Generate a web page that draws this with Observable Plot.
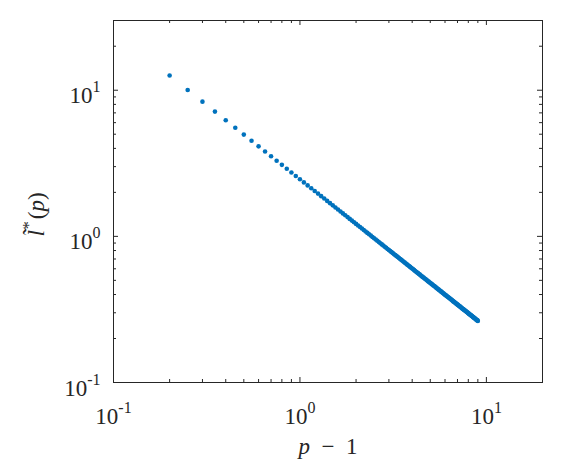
<!DOCTYPE html>
<html><head><meta charset="utf-8">
<script src="https://cdn.jsdelivr.net/npm/d3@7"></script>
<script src="https://cdn.jsdelivr.net/npm/@observablehq/plot@0.6"></script>
<style>html,body{margin:0;padding:0;background:#fff;} svg{display:block}</style>
</head><body><div id="chart"></div>
<script>
const pMinus1 = [
0.2,0.25,0.3,0.35,0.4,0.45,0.5,0.55,0.6,0.65,0.7,0.75,0.8,0.85,0.9,0.95,
1,1.05,1.1,1.15,1.2,1.25,1.3,1.35,1.4,1.45,1.5,1.55,1.6,1.65,1.7,1.75,1.8,1.85,1.9,1.95,
2,2.05,2.1,2.15,2.2,2.25,2.3,2.35,2.4,2.45,2.5,2.55,2.6,2.65,2.7,2.75,2.8,2.85,2.9,2.95,
3,3.05,3.1,3.15,3.2,3.25,3.3,3.35,3.4,3.45,3.5,3.55,3.6,3.65,3.7,3.75,3.8,3.85,3.9,3.95,
4,4.05,4.1,4.15,4.2,4.25,4.3,4.35,4.4,4.45,4.5,4.55,4.6,4.65,4.7,4.75,4.8,4.85,4.9,4.95,
5,5.05,5.1,5.15,5.2,5.25,5.3,5.35,5.4,5.45,5.5,5.55,5.6,5.65,5.7,5.75,5.8,5.85,5.9,5.95,
6,6.05,6.1,6.15,6.2,6.25,6.3,6.35,6.4,6.45,6.5,6.55,6.6,6.65,6.7,6.75,6.8,6.85,6.9,6.95,
7,7.05,7.1,7.15,7.2,7.25,7.3,7.35,7.4,7.45,7.5,7.55,7.6,7.65,7.7,7.75,7.8,7.85,7.9,7.95,
8,8.05,8.1,8.15,8.2,8.25,8.3,8.35,8.4,8.45,8.5,8.55,8.6,8.65,8.7,8.75,8.8,8.85,8.9,8.95,
9];
const lStar = [
12.60,10.04,8.35,7.14,6.23,5.53,4.97,4.51,4.13,3.81,3.53,3.29,3.085,2.901,2.738,2.591,
2.460,2.341,2.233,2.135,2.044,1.961,1.885,1.814,1.748,1.687,1.630,1.577,1.527,1.480,1.436,1.394,1.355,1.317,1.282,1.249,
1.217,1.187,1.158,1.131,1.105,1.080,1.056,1.033,1.012,0.991,0.970,0.951,0.933,0.915,0.898,0.881,0.865,0.850,0.835,0.820,
0.806,0.793,0.780,0.768,0.755,0.744,0.732,0.721,0.710,0.700,0.690,0.680,0.670,0.661,0.652,0.643,0.634,0.626,0.618,0.610,
0.602,0.595,0.587,0.580,0.573,0.566,0.560,0.553,0.547,0.540,0.534,0.528,0.523,0.517,0.511,0.506,0.500,0.495,0.490,0.485,
0.480,0.475,0.471,0.466,0.461,0.457,0.453,0.448,0.444,0.440,0.436,0.432,0.428,0.424,0.420,0.417,0.413,0.409,0.406,0.402,
0.399,0.396,0.392,0.389,0.386,0.383,0.380,0.377,0.374,0.371,0.368,0.365,0.362,0.359,0.357,0.354,0.351,0.349,0.346,0.344,
0.341,0.339,0.336,0.334,0.332,0.329,0.327,0.325,0.322,0.320,0.318,0.316,0.314,0.312,0.310,0.308,0.306,0.304,0.302,0.300,
0.298,0.296,0.294,0.292,0.291,0.289,0.287,0.285,0.284,0.282,0.280,0.278,0.277,0.275,0.274,0.272,0.270,0.269,0.267,0.266,
0.264];

const xMajorTicks = [0.1, 1, 10];
const xMinorTicks = [0.2,0.3,0.4,0.5,0.6,0.7,0.8,0.9,2,3,4,5,6,7,8,9];
const yMajorTicks = [0.1, 1, 10];
const yMinorTicks = [0.2,0.3,0.4,0.5,0.6,0.7,0.8,0.9,2,3,4,5,6,7,8,9,20];
const xTickLabels = ["10^-1", "10^0", "10^1"];
const yTickLabels = ["10^-1", "10^0", "10^1"];
const xLabel = "p − 1";
const yLabel = "l*(p)";

const points = pMinus1.map((x, i) => ({x, y: lStar[i]}));
const ink = "#262626";
const W = 565, H = 465, mL = 113, mR = 23, mT = 20, mB = 83;
const fw = W - mL - mR, fh = H - mT - mB;
const majLen = 5, minLen = 3;

const svg = Plot.plot({
  width: W, height: H,
  marginLeft: mL, marginRight: mR, marginTop: mT, marginBottom: mB,
  x: {type: "log", domain: [0.1, 20], axis: null},
  y: {type: "log", domain: [0.1, 30], axis: null},
  style: {color: ink, background: "#fff"},
  marks: [
    Plot.dot(points, {x: "x", y: "y", r: 2.3, fill: "#0072BD", stroke: null}),
    Plot.tickX(xMajorTicks, {x: d => d, insetTop: fh - majLen, stroke: ink}),
    Plot.tickX(xMinorTicks, {x: d => d, insetTop: fh - minLen, stroke: ink}),
    Plot.tickX(xMajorTicks, {x: d => d, insetBottom: fh - majLen, stroke: ink}),
    Plot.tickX(xMinorTicks, {x: d => d, insetBottom: fh - minLen, stroke: ink}),
    Plot.tickY(yMajorTicks, {y: d => d, insetRight: fw - majLen, stroke: ink}),
    Plot.tickY(yMinorTicks, {y: d => d, insetRight: fw - minLen, stroke: ink}),
    Plot.tickY(yMajorTicks, {y: d => d, insetLeft: fw - majLen, stroke: ink}),
    Plot.tickY(yMinorTicks, {y: d => d, insetLeft: fw - minLen, stroke: ink}),
    Plot.frame({stroke: ink}),
    Plot.text(xMajorTicks, {x: d => d, text: (d, i) => xTickLabels[i], frameAnchor: "bottom", dy: 41,
      lineAnchor: "bottom", textAnchor: "middle", fontSize: 23, fill: ink}),
    Plot.text(yMajorTicks, {y: d => d, text: (d, i) => yTickLabels[i], frameAnchor: "left", dx: -13, dy: 13,
      lineAnchor: "bottom", textAnchor: "end", fontSize: 23, fill: ink}),
    Plot.text([xLabel], {text: d => d, frameAnchor: "bottom", dy: 71, lineAnchor: "bottom",
      textAnchor: "middle", fontSize: 23, fill: ink}),
    Plot.text([yLabel], {text: d => d, frameAnchor: "left", dx: -70, dy: 13, rotate: -90, lineAnchor: "bottom",
      textAnchor: "middle", fontSize: 23, fill: ink})
  ]
});
document.getElementById("chart").appendChild(svg);

const NS = "http://www.w3.org/2000/svg";
function tspan(parent, txt, attrs = {}) {
  const t = document.createElementNS(NS, "tspan");
  for (const k in attrs) t.setAttribute(k, attrs[k]);
  t.textContent = txt;
  parent.appendChild(t);
  return t;
}
svg.querySelectorAll("text").forEach(el => {
  const s = el.textContent;
  if (s.includes("^")) {
    const [base, exp] = s.split("^");
    el.textContent = "";
    tspan(el, base);
    tspan(el, exp, {"font-size": 16, dy: -11});
  } else if (s === xLabel) {
    el.textContent = "";
    tspan(el, "p", {"font-style": "italic"});
    tspan(el, "\u2002\u2212\u2002");
    tspan(el, "1");
  } else if (s === yLabel) {
    el.textContent = "";
    tspan(el, "l\u0303", {"font-style": "italic"});
    tspan(el, "*", {"font-size": 16, dy: -10, dx: 1});
    tspan(el, "(", {dy: 10, dx: 2});
    tspan(el, "p", {"font-style": "italic"});
    tspan(el, ")");
  }
});
svg.setAttribute("font-family", "Liberation Serif");
svg.querySelectorAll("g, text, tspan").forEach(el => {
  el.setAttribute("font-family", "Liberation Serif");
  el.style.setProperty("font-family", "'Liberation Serif'", "important");
});
</script>
</body></html>
